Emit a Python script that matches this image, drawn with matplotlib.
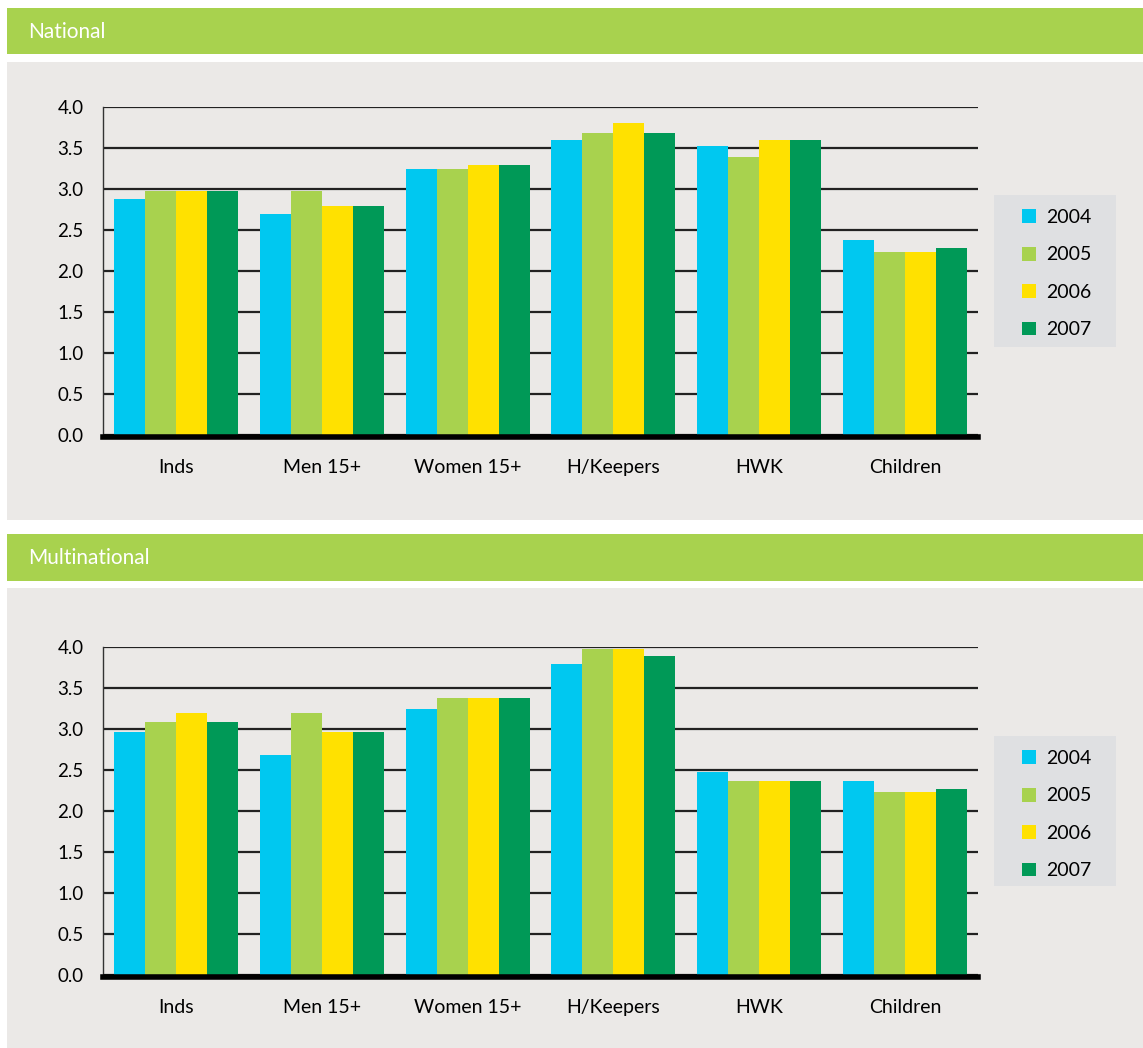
import matplotlib
matplotlib.use("Agg")
import matplotlib.pyplot as plt
from matplotlib.patches import Rectangle
import numpy as np

plt.rcParams['font.family'] = ['Lato', 'DejaVu Sans']

categories = ["Inds", "Men 15+", "Women 15+", "H/Keepers", "HWK", "Children"]
years = ["2004", "2005", "2006", "2007"]
colors = ["#00c8f0", "#a8d24e", "#ffe100", "#009957"]

national = {
    "2004": [2.88, 2.70, 3.24, 3.60, 3.52, 2.38],
    "2005": [2.98, 2.98, 3.24, 3.68, 3.39, 2.23],
    "2006": [2.98, 2.79, 3.29, 3.80, 3.60, 2.23],
    "2007": [2.98, 2.79, 3.29, 3.68, 3.60, 2.28],
}
multinational = {
    "2004": [2.96, 2.68, 3.24, 3.79, 2.48, 2.37],
    "2005": [3.09, 3.20, 3.38, 3.98, 2.37, 2.23],
    "2006": [3.20, 2.96, 3.38, 3.98, 2.37, 2.23],
    "2007": [3.09, 2.96, 3.38, 3.89, 2.37, 2.27],
}
titles = ["National", "Multinational"]
yticks = [0.0, 0.5, 1.0, 1.5, 2.0, 2.5, 3.0, 3.5, 4.0]

W, H = 1143, 1048
fig = plt.figure(figsize=(W / 100, H / 100), dpi=100)
fig.patch.set_facecolor("white")

GREEN = "#a8d24e"
PANEL = "#ebe9e7"
LEGBG = "#dfe0e2"

def frect(x0, y0, x1, y1, color, z=-5):
    # pixel coords (top-left origin) -> figure fraction
    fig.patches.append(Rectangle((x0 / W, 1 - y1 / H), (x1 - x0) / W, (y1 - y0) / H,
                                 transform=fig.transFigure, facecolor=color,
                                 edgecolor="none", zorder=z))

# panel layout in pixels
headers = [(8, 54), (534, 581)]
panels = [(62, 520), (588, 1048)]
axes_px = [(107, 435), (647, 975)]
legend_box = [(994, 195, 1116, 347), (994, 736, 1116, 886)]

for i, (data, title) in enumerate(zip([national, multinational], titles)):
    hy0, hy1 = headers[i]
    frect(7, hy0, W, hy1, GREEN)
    fig.text(28 / W, 1 - ((hy0 + hy1) / 2 + 1) / H, title, color="white", fontsize=15,
             fontweight="normal", va="center", ha="left", zorder=5)
    py0, py1 = panels[i]
    frect(7, py0, W, py1, PANEL)
    lx0, ly0, lx1, ly1 = legend_box[i]
    frect(lx0, ly0, lx1, ly1, LEGBG, z=-4)

    ay0, ay1 = axes_px[i]
    ax = fig.add_axes([103 / W, 1 - ay1 / H, 875 / W, (ay1 - ay0) / H], zorder=2)
    ax.patch.set_alpha(0)
    for s in ["top", "right"]:
        ax.spines[s].set_visible(False)
    ax.spines["left"].set_color("#333333")
    ax.spines["left"].set_linewidth(1.0)
    ax.spines["bottom"].set_color("black")
    ax.spines["bottom"].set_linewidth(4)
    ax.spines["bottom"].set_position(("outward", 1.5))
    ax.spines["bottom"].set_zorder(3)

    x = np.arange(len(categories))
    bw = 0.2125
    handles = []
    for j, yr in enumerate(years):
        b = ax.bar(x + (j - 1.5) * bw, data[yr], width=bw, color=colors[j],
                   label=yr, zorder=2, linewidth=0)
        handles.append(b)
    ax.set_xlim(-0.5, len(categories) - 0.5)
    ax.set_ylim(0, 4.0)
    ax.set_yticks(yticks)
    ax.set_yticklabels([f"{t:.1f}" for t in yticks], fontsize=13.5)
    ax.set_xticks(x)
    ax.set_xticklabels(categories, fontsize=14)
    ax.tick_params(axis="both", length=0)
    ax.tick_params(axis="y", pad=14)
    ax.tick_params(axis="x", pad=16)
    ax.yaxis.grid(True, color="#222222", linewidth=1.6, zorder=1)
    ax.set_axisbelow(True)

    leg = fig.legend(handles=handles, labels=years, loc="upper left",
                     bbox_to_anchor=(1022 / W, 1 - (ly0 + 14) / H),
                     fontsize=14, frameon=False,
                     handlelength=0.72, handleheight=0.72, handletextpad=0.5,
                     labelspacing=1.05, borderpad=0, borderaxespad=0)

fig.savefig("out.png", dpi=100, facecolor="white")
